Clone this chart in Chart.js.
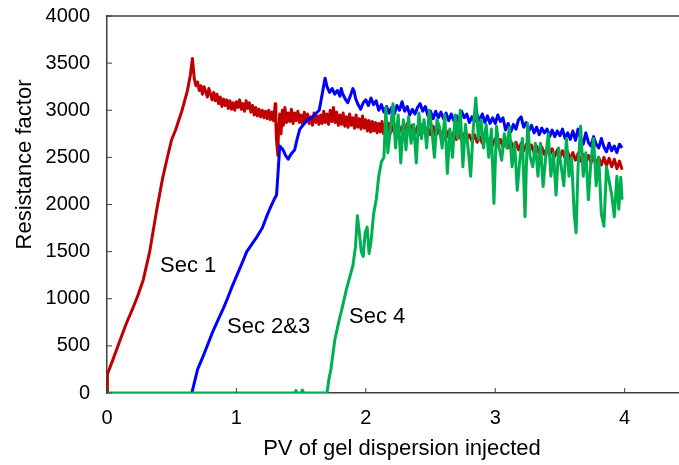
<!DOCTYPE html>
<html>
<head>
<meta charset="utf-8">
<script src="https://cdn.jsdelivr.net/npm/chart.js@4"></script>
<style>
html,body{margin:0;padding:0;background:#fff;}
#wrap{width:679px;height:465px;}
</style>
</head>
<body>
<div id="wrap"><canvas id="c" width="679" height="465"></canvas></div>
<script>
// ---- data ----
const sec1X = [0,0.003,0.05,0.09,0.15,0.20,0.24,0.28,0.30,0.33,0.385,0.43,0.47,0.50,0.53,0.58,0.62,0.645,0.66,
0.675,0.6875,0.70,0.7125,0.725,0.7375,0.75,0.7625,0.775,0.7875,0.80,0.8125,0.825,0.8375,0.85,0.8625,0.875,0.8875,0.90,0.9125,0.925,0.9375,0.95,0.9625,0.975,0.9875,
1.0,1.0125,1.025,1.0375,1.05,1.0625,1.075,1.0875,1.10,1.1125,1.125,1.1375,1.15,1.1625,1.175,1.1875,1.20,1.2125,1.225,1.2375,1.25,1.2625,1.275,1.2875,1.30,1.305,1.31,1.32,1.325,1.335,1.345,1.355,1.3625,1.375,1.3875,
1.40,1.4125,1.425,1.4375,1.45,1.4625,1.475,1.4875,1.50,1.5125,1.525,1.5375,1.55,1.5625,1.575,1.5875,1.60,1.6125,1.625,1.6375,1.65,1.6625,1.675,1.6875,1.70,1.7125,1.725,1.7375,1.75,1.7625,1.775,1.7875,
1.80,1.8125,1.825,1.8375,1.85,1.8625,1.875,1.8875,1.90,1.9125,1.925,1.9375,1.95,1.9625,1.975,1.9875,2.0,2.0125,2.025,2.0375,2.05,2.0625,2.075,2.0875,2.10,2.1125,2.125,2.1375,2.15,2.1625,2.175,2.1875,2.20,
2.22,2.24,2.26,2.28,2.30,2.32,2.34,2.36,2.38,2.40,2.42,2.44,2.46,2.48,2.50,2.52,2.54,2.56,2.58,2.60,2.62,2.64,2.66,2.68,2.70,2.72,2.74,2.76,2.78,2.80,2.82,2.84,2.86,2.88,2.90,2.92,2.94,2.96,2.98,
3.00,3.02,3.04,3.06,3.08,3.10,3.12,3.14,3.16,3.18,3.20,3.22,3.24,3.26,3.28,3.30,3.32,3.34,3.36,3.38,3.40,3.42,3.44,3.46,3.48,3.50,3.52,3.54,3.56,3.58,3.60,3.62,3.64,3.66,3.68,3.70,3.72,3.74,3.76,3.78,
3.80,3.82,3.84,3.86,3.88,3.90,3.92,3.94,3.96,3.98];
const sec1Y = [0,200,370,520,740,900,1040,1200,1320,1500,1950,2280,2520,2690,2790,3000,3200,3380,3550,
3330,3260,3300,3210,3260,3170,3250,3200,3140,3230,3170,3110,3190,3100,3170,3070,3140,3040,3120,3050,3110,3020,3100,3010,3080,3000,
3090,3030,3110,3010,3070,2990,3100,3020,3080,2980,3050,2950,3030,2940,3010,2930,3000,2920,2990,2910,3000,2900,2980,2890,3070,2850,2680,2520,2780,2960,2750,3000,2840,3030,2870,
2970,2880,3010,2860,2970,2890,2990,2870,2950,2850,2980,2880,2960,2860,2930,2840,2970,2870,2940,2850,2950,2860,2990,2870,2960,2850,3000,2880,3030,2870,2980,2840,
2950,2850,2970,2830,2930,2820,2960,2840,2920,2810,2950,2820,2910,2800,2940,2810,2900,2780,2890,2770,2880,2780,2870,2760,2860,2770,2880,2750,2850,2760,2860,2750,2840,
2760,2850,2770,2830,2750,2860,2780,2840,2750,2830,2740,2850,2770,2820,2740,2830,2730,2800,2720,2790,2710,2780,2700,2770,2690,2760,2680,2750,2690,2740,2670,2740,2660,2720,2650,2730,2660,2700,2630,
2700,2620,2690,2610,2680,2600,2670,2590,2660,2580,2650,2570,2640,2560,2630,2550,2620,2540,2610,2530,2600,2520,2590,2510,2580,2500,2570,2490,2560,2480,2550,2470,2540,2460,2530,2450,2520,2440,2510,2430,
2500,2420,2500,2410,2490,2400,2480,2380,2460,2370];

const sec23X = [0.655,0.67,0.70,0.74,0.78,0.82,0.86,0.90,0.93,0.97,1.01,1.05,1.08,1.12,1.16,1.20,1.23,1.26,1.29,1.31,1.32,1.335,1.36,1.38,1.40,1.42,1.45,1.47,1.49,1.52,1.55,1.58,1.61,1.64,1.66,
1.685,1.70,1.72,1.74,1.76,1.78,1.80,1.81,1.82,1.84,1.86,1.88,1.90,1.91,1.92,1.94,1.96,1.98,2.00,2.02,2.04,2.06,2.08,2.10,2.12,2.14,2.16,2.18,2.20,2.22,2.24,2.26,2.28,2.30,2.32,2.34,2.36,2.38,
2.40,2.42,2.44,2.46,2.48,2.50,2.52,2.54,2.56,2.58,2.60,2.62,2.64,2.66,2.68,2.70,2.72,2.74,2.76,2.78,2.80,2.82,2.84,2.86,2.88,2.90,2.92,2.94,2.96,2.98,
3.00,3.02,3.04,3.06,3.08,3.10,3.12,3.14,3.16,3.18,3.20,3.22,3.24,3.26,3.28,3.30,3.32,3.34,3.36,3.38,3.40,3.42,3.44,3.46,3.48,3.50,3.52,3.54,3.56,3.58,
3.60,3.62,3.64,3.66,3.68,3.70,3.72,3.74,3.76,3.78,3.80,3.82,3.84,3.86,3.88,3.90,3.92,3.94,3.96,3.98];
const sec23Y = [0,80,250,380,520,660,780,900,1000,1140,1270,1400,1500,1580,1660,1750,1860,1960,2050,2100,2300,2620,2580,2520,2480,2530,2580,2700,2800,2850,2900,2920,2960,3000,3150,
3340,3250,3190,3230,3170,3210,3150,3230,3180,3120,3080,3150,3230,3200,3130,3060,3010,3080,3110,3050,3130,3060,3100,3000,3060,2980,3040,2970,3030,2960,3050,3000,3090,2990,3040,2950,3010,2960,
3030,3070,2990,3040,2940,2990,2910,2990,2920,2980,2910,2970,2890,2960,2890,2940,2880,2990,2920,2960,2870,2930,2880,2950,2890,2960,2870,2940,2860,2920,
2860,2950,2880,2920,2790,2860,2770,2850,2800,2900,2930,2820,2870,2780,2840,2760,2820,2740,2810,2760,2800,2720,2790,2720,2780,2730,2800,2700,2760,2690,
2780,2680,2800,2700,2640,2760,2660,2620,2720,2640,2600,2700,2610,2560,2650,2570,2620,2550,2640,2600];

const sec4X = [0,1.45,1.46,1.47,1.5,1.51,1.52,1.70,1.715,1.73,1.76,1.79,1.82,1.85,1.88,1.90,1.92,1.935,1.95,1.965,1.98,1.995,2.01,2.025,2.04,2.06,2.08,2.10,2.12,2.14,2.155,2.17,2.19,2.21,2.23,2.25,2.27,2.29,2.31,2.33,2.35,2.37,2.39,2.41,2.43,2.45,2.47,2.49,2.51,2.53,2.55,2.57,2.59,2.61,2.63,2.65,2.67,2.69,2.71,2.73,2.75,2.77,2.79,2.81,2.83,2.85,2.87,2.89,2.91,2.93,2.95,2.97,2.99,3.01,3.03,3.05,3.07,3.09,3.11,3.13,3.15,3.17,3.19,3.21,3.23,3.25,3.27,3.29,3.31,3.33,3.35,3.37,3.39,3.41,3.43,3.45,3.47,3.49,3.51,3.53,3.55,3.57,3.59,3.61,3.625,3.64,3.66,3.68,3.70,3.72,3.74,3.76,3.78,3.80,3.82,3.84,3.86,3.88,3.90,3.92,3.94,3.955,3.97,3.98];
const sec4Y = [0,0,25,0,0,30,0,0,150,250,560,750,920,1100,1250,1350,1550,1880,1700,1500,1450,1700,1760,1480,1600,1900,2050,2300,2450,2500,3030,2550,2800,3070,2600,2950,2440,2900,2580,2930,2650,2850,2440,2970,2700,2900,2600,3000,2800,2500,2900,2820,2600,2950,2330,2800,2500,2950,2700,3000,2400,2850,2600,2300,2800,3130,2690,2900,2600,2850,2500,2800,2010,2830,2600,2470,2750,2600,2820,2400,2650,2150,2470,2700,1870,2860,2500,2400,2650,2300,2650,2190,2500,2750,2300,2550,2100,2600,2400,2200,2700,2300,2500,1900,1700,2400,2830,2300,2550,2050,2470,2700,2200,2500,1900,1770,2400,2250,2100,1870,2300,1950,2290,2050];

const xTicks = [0,1,2,3,4];
const yTicks = [0,500,1000,1500,2000,2500,3000,3500,4000];
const xTitle = 'PV of gel dispersion injected';
const yTitle = 'Resistance factor';
const labelText = ["Sec 1","Sec 2&3","Sec 4"];
const labelX = [0.41,0.928,1.87];
const labelY = [1347,700,806];

const FONT = "'Liberation Sans', Arial, Helvetica, sans-serif";
const AXIS = '#404040';

function pts(xs, ys){ return xs.map((x,i)=>({x:x,y:ys[i]})); }

const decor = {
  id:'decor',
  afterDraw(chart){
    const ctx = chart.ctx, a = chart.chartArea;
    const xs = chart.scales.x, ys = chart.scales.y;
    ctx.save();
    ctx.strokeStyle = AXIS; ctx.lineWidth = 1.5;
    ctx.beginPath(); ctx.moveTo(a.left, a.top); ctx.lineTo(a.right, a.top); ctx.stroke();
    ctx.lineWidth = 1;
    xTicks.forEach(v=>{ const p = xs.getPixelForValue(v); ctx.beginPath(); ctx.moveTo(p, a.bottom); ctx.lineTo(p, a.bottom-5); ctx.stroke(); });
    yTicks.forEach(v=>{ const p = ys.getPixelForValue(v); ctx.beginPath(); ctx.moveTo(a.left, p); ctx.lineTo(a.left+5, p); ctx.stroke(); });
    ctx.fillStyle = '#000'; ctx.font = '22px ' + FONT; ctx.textBaseline = 'middle'; ctx.textAlign = 'left';
    labelText.forEach((t,i)=>{ ctx.fillText(t, xs.getPixelForValue(labelX[i]), ys.getPixelForValue(labelY[i])); });
    // axis titles
    ctx.textAlign = 'center';
    ctx.fillText(xTitle, (a.left + a.right)/2 + 9, a.bottom + 56);
    ctx.translate(a.left - 82, (a.top + a.bottom)/2 - 40);
    ctx.rotate(-Math.PI/2);
    ctx.fillText(yTitle, 0, 0);
    ctx.restore();
  }
};

new Chart(document.getElementById('c'), {
  type:'line',
  data:{ datasets:[
    {label:'Sec 4', data:pts(sec4X,sec4Y), borderColor:'#00B050', order:0},
    {label:'Sec 2&3', data:pts(sec23X,sec23Y), borderColor:'#0000FF', order:1},
    {label:'Sec 1', data:pts(sec1X,sec1Y), borderColor:'#C00000', order:2}
  ]},
  options:{
    responsive:false, animation:false,
    datasets:{ line:{ borderWidth:3, pointRadius:0, tension:0, fill:false, borderJoinStyle:'round' } },
    layout:{ padding:{ top:16, right:0, left:0, bottom:0 } },
    plugins:{ legend:{display:false}, tooltip:{enabled:false} },
    scales:{
      x:{ type:'linear', min:0, max:4.42,
        afterFit(s){ s.height = 72; s.paddingLeft = 0; s.paddingRight = 0; },
        grid:{ display:true, drawOnChartArea:false, drawTicks:false },
        border:{ display:true, color:AXIS, width:1.5 },
        ticks:{ stepSize:1, includeBounds:false, padding:13, color:'#000', font:{family:FONT, size:20},
          callback:(v)=>String(v) }
      },
      y:{ type:'linear', min:0, max:4000,
        afterFit(s){ s.width = 107; s.paddingTop = 0; s.paddingBottom = 0; },
        grid:{ display:true, drawOnChartArea:false, drawTicks:false },
        border:{ display:true, color:AXIS, width:1.5 },
        ticks:{ stepSize:500, padding:17, color:'#000', font:{family:FONT, size:20},
          callback:(v)=>String(v) }
      }
    }
  },
  plugins:[decor]
});
</script>
</body>
</html>
